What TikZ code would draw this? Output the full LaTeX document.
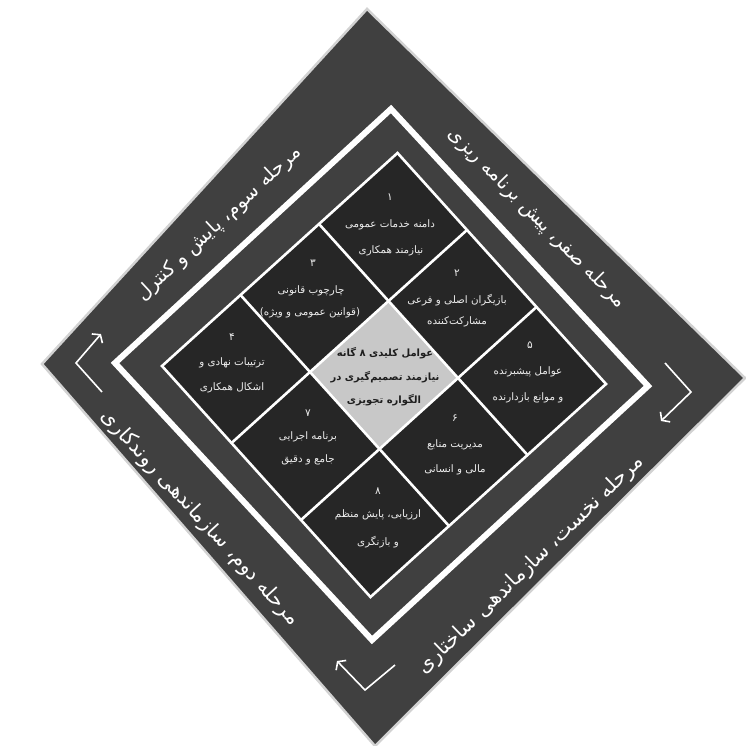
\documentclass[tikz,border=0pt]{standalone}
\usepackage{fontspec}
\usetikzlibrary{arrows.meta}
\TeXXeTstate=1
\newfontfamily\fa[Script=Arabic]{DejaVu Sans}
\definecolor{bandgrey}{HTML}{404040}
\definecolor{cellgrey}{HTML}{262626}
\definecolor{centergrey}{HTML}{C8C8C8}
\definecolor{rimgrey}{HTML}{D2D2D2}
\definecolor{centerink}{HTML}{1E1E1E}
\begin{document}
\begin{tikzpicture}[x=1pt,y=-1pt,
  edgetext/.style={text=white,font=\fa\fontsize{19.5}{22}\selectfont,inner sep=0pt},
  edgetextwide/.style={edgetext,font=\fa\fontsize{20.5}{23}\selectfont},
  celltext/.style={text=white!93!black,font=\fa\fontsize{10.3}{12}\selectfont,inner sep=0pt},
  cellnum/.style={text=white!93!black,font=\fa\fontsize{10.5}{12}\selectfont,inner sep=0pt},
  centertext/.style={text=centerink,font=\fa\bfseries\fontsize{10}{12}\selectfont,inner sep=0pt},
  gridline/.style={white,line width=2.6pt},
  cornerarrow/.style={white,line width=1.6pt,line join=miter,-{Straight Barb[length=5pt,width=14pt]}}
]
\useasboundingbox (0,0) rectangle (745,746);
% outer band
\coordinate (oT) at (367,9);
\coordinate (oR) at (745,378);
\coordinate (oB) at (375,746);
\coordinate (oL) at (42,364);
\filldraw[fill=bandgrey,draw=rimgrey,line width=2.5pt,line join=miter] (oT) -- (oR) -- (oB) -- (oL) -- cycle;
% white frame
\coordinate (fT) at (391,109);
\coordinate (fR) at (648,386);
\coordinate (fB) at (372,640);
\coordinate (fL) at (115,363);
\draw[white,line width=6pt,line join=miter] (fT) -- (fR) -- (fB) -- (fL) -- cycle;
% grid of cells
\begin{scope}[shift={(162,366)},x={(78.5pt,71pt)},y={(69.5pt,-77pt)}]
  \fill[cellgrey] (0,0) -- (3,0) -- (3,3) -- (0,3) -- cycle;
  \fill[centergrey] (1,1) -- (2,1) -- (2,2) -- (1,2) -- cycle;
  \foreach \k in {1,2} {
    \draw[gridline] (\k,0) -- (\k,3);
    \draw[gridline] (0,\k) -- (3,\k);
  }
  \draw[gridline,line join=miter] (0,0) -- (3,0) -- (3,3) -- (0,3) -- cycle;
\end{scope}
% corner arrows
\coordinate (aL1) at (102,392); \coordinate (aL2) at (76,363); \coordinate (aL3) at (101,334);
\draw[cornerarrow] (aL1) -- (aL2) -- (aL3);
\coordinate (aB1) at (395,665); \coordinate (aB2) at (365,690); \coordinate (aB3) at (337,661);
\draw[cornerarrow] (aB1) -- (aB2) -- (aB3);
\coordinate (aR1) at (665,363); \coordinate (aR2) at (691,392); \coordinate (aR3) at (661,421);
\draw[cornerarrow] (aR1) -- (aR2) -- (aR3);
% phase labels
\node[edgetext,rotate=-45.5] (p0) at (537,218) {\beginR مرحله صفر، پیش برنامه ریزی\endR};
\node[edgetextwide,rotate=44] (p1) at (531,565) {\beginR مرحله نخست، سازماندهی ساختاری\endR};
\node[edgetextwide,rotate=-47.5] (p2) at (200,518) {\beginR مرحله دوم، سازماندهی روندکاری\endR};
\node[edgetext,rotate=43] (p3) at (219,224) {\beginR مرحله سوم، پایش و کنترل\endR};
% cell 1
\node[cellnum] (n1) at (390,197) {\beginR ۱\endR};
\node[celltext] (c1a) at (390,225) {\beginR دامنه خدمات عمومی\endR};
\node[celltext] (c1b) at (391,251) {\beginR نیازمند همکاری\endR};
% cell 2
\node[cellnum] (n2) at (457,273) {\beginR ۲\endR};
\node[celltext] (c2a) at (457,300) {\beginR بازیگران اصلی و فرعی\endR};
\node[celltext] (c2b) at (457,322) {\beginR مشارکت‌کننده\endR};
% cell 3
\node[cellnum] (n3) at (313,263) {\beginR ۳\endR};
\node[celltext] (c3a) at (311,291) {\beginR چارچوب قانونی\endR};
\node[celltext] (c3b) at (310,313) {\beginR (قوانین عمومی و ویژه)\endR};
% cell 4
\node[cellnum] (n4) at (232,337) {\beginR ۴\endR};
\node[celltext] (c4a) at (232,363) {\beginR ترتیبات نهادی و\endR};
\node[celltext] (c4b) at (232,388) {\beginR اشکال همکاری\endR};
% cell 5
\node[cellnum] (n5) at (530,345) {\beginR ۵\endR};
\node[celltext] (c5a) at (528,372) {\beginR عوامل پیشبرنده\endR};
\node[celltext] (c5b) at (528,398) {\beginR و موانع بازدارنده\endR};
% cell 6
\node[cellnum] (n6) at (455,418) {\beginR ۶\endR};
\node[celltext] (c6a) at (455,445) {\beginR مدیریت منابع\endR};
\node[celltext] (c6b) at (455,470) {\beginR مالی و انسانی\endR};
% cell 7
\node[cellnum] (n7) at (308,413) {\beginR ۷\endR};
\node[celltext] (c7a) at (308,437) {\beginR برنامه اجرایی\endR};
\node[celltext] (c7b) at (308,460) {\beginR جامع و دقیق\endR};
% cell 8
\node[cellnum] (n8) at (378,491) {\beginR ۸\endR};
\node[celltext] (c8a) at (378,515) {\beginR ارزیابی، پایش منظم\endR};
\node[celltext] (c8b) at (378,542) {\beginR و بازنگری\endR};
% centre
\node[centertext] (k1) at (385,353) {\beginR عوامل کلیدی ۸ گانه\endR};
\node[centertext] (k2) at (385,377) {\beginR نیازمند تصمیم‌گیری در\endR};
\node[centertext] (k3) at (384,400) {\beginR الگواره تجویزی\endR};
\end{tikzpicture}
\end{document}
